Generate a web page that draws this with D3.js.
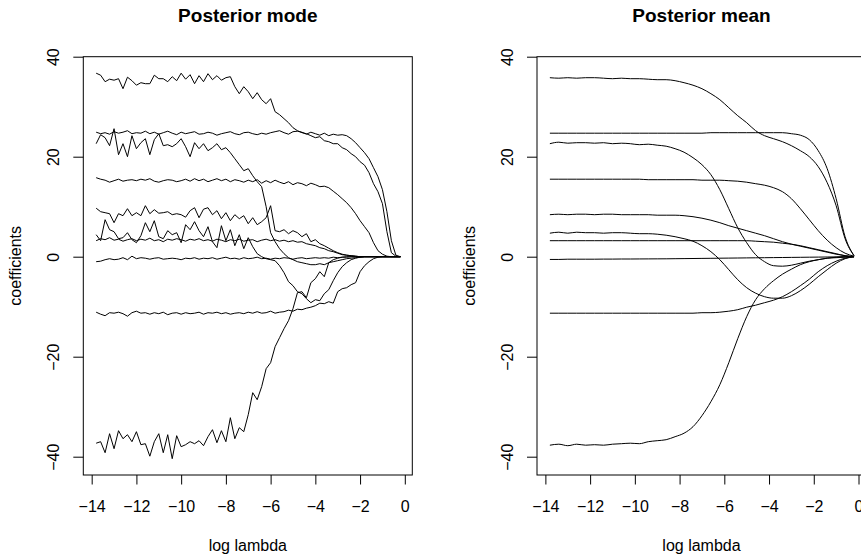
<!DOCTYPE html>
<html><head><meta charset="utf-8">
<script src="https://cdn.jsdelivr.net/npm/d3@7"></script>
<style>
body{margin:0;background:#fff}
svg{display:block}
text{font-family:"Liberation Sans",Arial,Helvetica,sans-serif;fill:#000}
</style>
</head><body>
<svg id="c" width="861" height="559"></svg>
<script>
// ---------------- data ----------------
const titles = ["Posterior mode", "Posterior mean"];
const xLabel = "log lambda";
const yLabel = "coefficients";
const xTickValues = [-14, -12, -10, -8, -6, -4, -2, 0];
const yTickValues = [-40, -20, 0, 20, 40];

// log lambda grid, posterior mode
const xMode = [
-13.8,-13.6,-13.4,-13.2,-13.0,-12.8,-12.6,-12.4,-12.2,-12.0,
-11.8,-11.6,-11.4,-11.2,-11.0,-10.8,-10.6,-10.4,-10.2,-10.0,
-9.8,-9.6,-9.4,-9.2,-9.0,-8.8,-8.6,-8.4,-8.2,-8.0,
-7.8,-7.6,-7.4,-7.2,-7.0,-6.8,-6.6,-6.4,-6.2,-6.0,
-5.8,-5.6,-5.4,-5.2,-5.0,-4.8,-4.6,-4.4,-4.2,-4.0,
-3.8,-3.6,-3.4,-3.2,-3.0,-2.8,-2.6,-2.4,-2.2,-2.0,
-1.8,-1.6,-1.4,-1.2,-1.0,-0.8,-0.6,-0.4,-0.2];

const modeA = [
36.7,36.3,35.0,35.5,35.3,35.6,33.6,35.9,35.2,34.3,
34.8,34.6,34.6,36.3,35.6,35.6,35.0,36.0,35.2,36.7,
35.5,36.4,34.6,36.2,35.0,36.6,35.4,36.2,35.3,35.8,
36.0,34.0,32.6,34.0,33.0,31.6,32.8,31.4,30.6,31.6,
29.0,28.4,27.6,26.8,25.8,25.2,24.8,24.6,24.2,23.8,
24.0,23.2,23.0,22.6,22.6,21.8,21.4,20.6,20.0,19.0,
18.3,16.8,14.6,13.0,10.6,5.0,0.8,0.1,0.0];
const modeB = [
24.9,24.6,24.8,24.5,25.0,24.7,24.9,25.2,24.6,24.8,
24.7,25.1,24.6,24.9,24.5,24.8,25.1,24.7,24.4,24.9,
24.6,24.8,25.0,24.5,24.6,24.9,24.7,24.3,24.6,24.8,
25.0,24.6,24.4,24.8,24.9,24.6,24.4,24.7,24.5,24.8,
25.0,25.2,24.8,24.5,25.0,25.1,24.9,24.5,24.9,24.6,
24.3,24.7,24.2,24.5,24.3,24.4,24.2,23.6,22.8,21.8,
20.8,19.6,17.8,16.0,13.4,9.0,3.2,0.3,0.0];
const modeC = [
22.6,24.4,23.8,22.2,25.6,20.4,22.6,20.0,24.2,21.6,
22.8,23.6,20.4,23.4,24.6,22.2,22.4,22.0,22.6,23.6,
22.0,20.0,22.8,21.6,22.6,21.2,21.8,22.6,21.4,21.8,
20.8,19.6,18.4,17.2,17.6,16.2,15.0,14.0,10.0,4.8,
3.0,1.6,0.6,-0.2,-0.6,-1.0,-1.2,-1.4,-1.6,-1.6,
-1.4,-1.6,-1.2,-1.0,-0.8,-0.6,-0.4,-0.3,-0.2,-0.1,
0,0,0,0,0,0,0,0,0];
const modeD = [
15.8,15.5,15.3,14.9,15.2,15.5,15.1,15.3,15.4,15.2,
15.5,15.3,15.6,15.1,14.9,15.2,15.4,15.3,15.0,15.2,
15.5,15.1,15.6,15.2,15.5,15.0,15.3,15.6,15.2,15.5,
15.0,15.4,15.2,14.9,15.3,15.0,15.4,14.7,15.2,14.8,
15.3,14.9,14.6,15.0,14.4,14.8,14.6,14.2,14.7,14.4,
14.0,14.1,13.8,13.1,12.4,11.6,10.8,9.8,8.6,7.2,
6.0,4.8,2.8,1.2,0.5,0.1,0.0,0.0,0.0];
const modeE = [
9.7,9.0,8.8,8.6,6.8,8.6,8.2,9.6,8.2,8.8,
8.2,10.2,8.6,9.4,8.7,8.8,9.0,8.4,8.6,8.4,
7.9,9.2,9.8,7.8,9.5,9.8,8.4,9.2,7.6,8.8,
7.2,8.4,7.6,8.2,6.6,7.8,6.4,7.0,7.8,10.2,
5.2,5.0,5.4,4.6,5.2,4.8,4.0,4.6,3.0,3.4,
2.6,2.2,1.7,1.2,0.8,0.5,0.3,0.2,0.1,0,
0,0,0,0,0,0,0,0,0];
const modeF = [
4.4,3.2,7.4,5.4,5.0,3.6,3.8,4.8,3.4,2.8,
4.2,6.8,5.0,7.2,4.0,3.6,5.2,4.4,4.8,2.8,
6.4,5.4,7.0,5.2,4.0,6.0,3.0,1.8,6.2,3.2,
5.4,2.2,4.4,1.6,3.8,2.0,0.6,0.0,-0.4,-0.6,
-0.8,-1.8,-3.2,-5.0,-5.8,-7.0,-7.4,-8.4,-9.2,-8.6,
-8.8,-7.4,-6.6,-4.8,-3.2,-2.0,-1.2,-0.6,-0.3,-0.1,
0,0,0,0,0,0,0,0,0];
const modeG = [
3.2,3.6,3.4,3.8,3.3,3.5,3.1,3.4,3.6,3.2,
3.5,3.3,3.7,3.2,3.4,3.0,3.5,3.3,3.6,3.4,
3.1,3.5,3.3,3.6,3.2,3.4,3.1,3.5,3.3,3.0,
3.4,3.2,3.5,3.1,3.3,3.4,3.0,3.3,3.5,3.2,
3.4,3.1,3.3,3.0,3.2,2.9,3.0,2.6,2.4,2.2,
1.8,1.6,1.2,1.0,0.7,0.4,0.3,0.2,0.1,0.0,
0,0,0,0,0,0,0,0,0];
const modeH = [
-1.0,-0.9,-0.6,-0.4,-0.6,-0.5,-0.2,-0.6,0.1,-0.4,
-0.2,-0.3,-0.5,-0.3,-0.2,-0.5,-0.4,-0.3,-0.4,-0.6,
-0.3,-0.4,-0.2,-0.5,-0.3,-0.4,-0.2,-0.5,-0.3,-0.1,
-0.4,-0.3,-0.5,-0.2,-0.4,-0.3,-0.1,-0.4,-0.3,-0.5,
-0.3,-0.4,-0.2,-0.3,-0.5,-0.3,-0.2,-0.4,-0.3,-0.2,
-0.3,-0.2,-0.3,-0.1,-0.2,-0.1,-0.1,0.0,0.0,0.0,
0,0,0,0,0,0,0,0,0];
const modeI = [
-11.1,-11.5,-11.8,-11.2,-11.3,-11.1,-11.4,-11.9,-11.2,-10.9,
-11.3,-11.2,-11.5,-11.2,-11.4,-11.1,-11.6,-11.3,-11.2,-11.5,
-11.2,-11.4,-11.3,-11.1,-11.5,-11.2,-11.3,-11.1,-11.4,-11.2,
-11.5,-11.3,-11.2,-11.4,-11.1,-11.3,-11.0,-11.3,-11.2,-10.9,
-11.3,-11.1,-11.0,-10.7,-10.9,-10.5,-10.6,-10.3,-10.1,-9.8,
-9.3,-9.4,-9.0,-9.3,-7.0,-6.4,-6.2,-5.6,-5.2,-3.0,
-1.8,-1.0,-0.4,-0.1,0.0,0.0,0.0,0.0,0.0];
const modeJ = [
-37.3,-37.0,-39.2,-35.4,-38.4,-34.8,-36.4,-35.6,-37.0,-35.0,
-37.6,-37.4,-39.9,-37.0,-35.4,-39.2,-35.6,-40.4,-35.8,-38.0,
-37.6,-37.0,-37.4,-36.8,-37.8,-36.0,-34.6,-37.2,-34.8,-37.0,
-32.2,-36.4,-34.2,-35.0,-31.6,-27.2,-28.6,-26.0,-22.4,-21.2,
-18.0,-16.2,-14.4,-12.8,-10.4,-7.2,-7.0,-8.2,-5.2,-4.4,
-3.0,-4.0,-1.2,-0.6,-0.3,-0.1,0,0,0,0,
0,0,0,0,0,0,0,0,0];

// log lambda grid, posterior mean
const xMean = [
-13.8,-13.4,-13.0,-12.6,-12.2,-11.8,-11.4,-11.0,-10.6,-10.2,
-9.8,-9.4,-9.0,-8.6,-8.2,-7.8,-7.4,-7.0,-6.6,-6.2,
-5.8,-5.4,-5.0,-4.6,-4.2,-3.8,-3.4,-3.0,-2.6,-2.2,
-1.8,-1.4,-1.0,-0.6,-0.2];
const meanA = [35.8,35.7,35.8,35.7,35.8,35.8,35.7,35.6,35.7,35.6,
35.6,35.5,35.4,35.4,35.2,34.8,34.3,33.6,32.6,31.4,
29.8,28.2,26.8,25.2,24.2,23.6,23.0,22.2,21.2,20.0,
18.0,14.8,10.2,3.6,0.2];
const meanB = [24.7,24.7,24.7,24.7,24.7,24.7,24.7,24.7,24.7,24.7,
24.7,24.7,24.7,24.7,24.7,24.7,24.7,24.7,24.8,24.8,
24.8,24.8,24.8,24.8,24.8,24.8,24.8,24.6,24.3,23.4,
21.2,17.6,11.6,4.0,0.2];
const meanC = [22.6,22.9,22.7,22.8,22.8,22.7,22.8,22.6,22.7,22.6,
22.4,22.5,22.3,22.1,21.6,20.9,19.8,18.4,16.4,13.4,
9.6,5.8,2.8,0.4,-1.0,-1.8,-1.9,-1.7,-1.3,-0.9,
-0.6,-0.3,-0.2,-0.1,0];
const meanD = [15.5,15.5,15.5,15.5,15.5,15.5,15.5,15.5,15.5,15.5,
15.5,15.4,15.4,15.4,15.4,15.4,15.4,15.3,15.3,15.3,
15.2,15.1,14.9,14.6,14.3,13.8,13.0,11.6,9.6,7.4,
5.2,3.3,1.8,0.7,0.1];
const meanE = [8.4,8.5,8.4,8.5,8.5,8.4,8.5,8.5,8.4,8.4,
8.4,8.4,8.3,8.3,8.3,8.2,8.0,7.7,7.3,6.8,
6.2,5.7,5.2,4.7,4.2,3.6,3.0,2.5,2.1,1.7,
1.3,0.9,0.5,0.2,0];
const meanF = [4.7,4.9,4.7,4.9,4.8,4.8,4.7,4.8,4.8,4.7,
4.6,4.6,4.5,4.3,4.0,3.6,3.1,2.2,1.0,-0.6,
-2.6,-4.6,-6.2,-7.3,-8.0,-8.3,-8.3,-7.8,-6.8,-5.5,
-4.0,-2.6,-1.3,-0.4,0];
const meanG = [3.2,3.2,3.2,3.2,3.2,3.2,3.2,3.2,3.2,3.2,
3.2,3.2,3.2,3.2,3.2,3.2,3.2,3.2,3.2,3.2,
3.2,3.2,3.2,3.1,3.0,2.9,2.7,2.5,2.2,1.8,
1.4,1.0,0.6,0.2,0];
const meanH = [-0.55,-0.55,-0.5,-0.5,-0.5,-0.5,-0.48,-0.48,-0.46,-0.46,
-0.45,-0.44,-0.43,-0.42,-0.4,-0.38,-0.36,-0.34,-0.32,-0.3,
-0.28,-0.26,-0.24,-0.22,-0.2,-0.18,-0.16,-0.14,-0.12,-0.1,
-0.08,-0.06,-0.04,-0.02,0];
const meanI = [-11.3,-11.3,-11.3,-11.3,-11.3,-11.3,-11.3,-11.3,-11.3,-11.3,
-11.3,-11.3,-11.3,-11.3,-11.3,-11.3,-11.3,-11.2,-11.2,-11.1,
-10.9,-10.6,-10.1,-9.7,-9.2,-8.7,-8.0,-7.0,-5.8,-4.5,
-3.0,-1.8,-0.9,-0.3,0];
const meanJ = [-37.7,-37.5,-37.8,-37.5,-37.7,-37.6,-37.7,-37.5,-37.4,-37.3,
-37.4,-37.0,-36.8,-36.6,-36.0,-35.3,-34.0,-31.8,-29.0,-25.6,
-21.2,-16.4,-12.0,-8.6,-6.4,-4.8,-3.5,-2.5,-1.6,-1.0,
-0.6,-0.3,-0.1,0,0];

// ---------------- drawing ----------------
const svg = d3.select("#c");
const TOP = 56.7, BOTTOM = 475, W = 329;
const FS = 16;
const minus = s => String(s).replace("-", "\u2212");

function panel(cfg) {
  const x = d3.scaleLinear().domain([-14.375, 0.335]).range([cfg.left, cfg.left + W]);
  const y = d3.scaleLinear().domain([-43.66, 40]).range([BOTTOM, TOP]);
  const g = svg.append("g");

  const line = d3.line()
    .x((d, i) => x(cfg.xs[i]))
    .y(d => y(d))
    .curve(cfg.curve);
  cfg.series.forEach(s => {
    g.append("path").attr("d", line(s))
      .attr("fill", "none").attr("stroke", "#000").attr("stroke-width", 1)
      .attr("stroke-linejoin", "round");
  });

  g.append("rect")
    .attr("x", cfg.left).attr("y", TOP)
    .attr("width", W).attr("height", BOTTOM - TOP)
    .attr("fill", "none").attr("stroke", "#000").attr("stroke-width", 1);

  const gx = g.append("g").attr("transform", `translate(0,${BOTTOM})`)
    .call(d3.axisBottom(x).tickValues(xTickValues).tickSize(9.5).tickFormat(minus));
  gx.select(".domain").remove();
  gx.selectAll("line").attr("stroke", "#000");
  gx.selectAll("text").attr("y", 36.7).attr("dy", null)
    .attr("font-size", FS).attr("font-family", null);

  const gy = g.append("g").attr("transform", `translate(${cfg.left},0)`)
    .call(d3.axisLeft(y).tickValues(yTickValues).tickSize(10).tickFormat(minus));
  gy.select(".domain").remove();
  gy.selectAll("line").attr("stroke", "#000");
  gy.selectAll("text").attr("x", null).attr("dy", null)
    .attr("text-anchor", "middle")
    .attr("transform", "translate(-24,0) rotate(-90)")
    .attr("font-size", FS).attr("font-family", null);

  const cx = cfg.left + W / 2;
  g.append("text").attr("x", cx).attr("y", 22).attr("text-anchor", "middle")
    .attr("font-size", 19).attr("font-weight", "bold").text(cfg.title);
  g.append("text").attr("x", cx).attr("y", 551).attr("text-anchor", "middle")
    .attr("font-size", FS).text(xLabel);
  g.append("text").attr("text-anchor", "middle").attr("font-size", FS)
    .attr("transform", `translate(${cfg.left - 62},${(TOP + BOTTOM) / 2}) rotate(-90)`)
    .text(yLabel);
}

panel({
  left: 83.3, title: titles[0], xs: xMode, curve: d3.curveLinear,
  series: [modeA, modeB, modeC, modeD, modeE, modeF, modeG, modeH, modeI, modeJ]
});
panel({
  left: 537.0, title: titles[1], xs: xMean, curve: d3.curveMonotoneX,
  series: [meanA, meanB, meanC, meanD, meanE, meanF, meanG, meanH, meanI, meanJ]
});
</script>
</body></html>
